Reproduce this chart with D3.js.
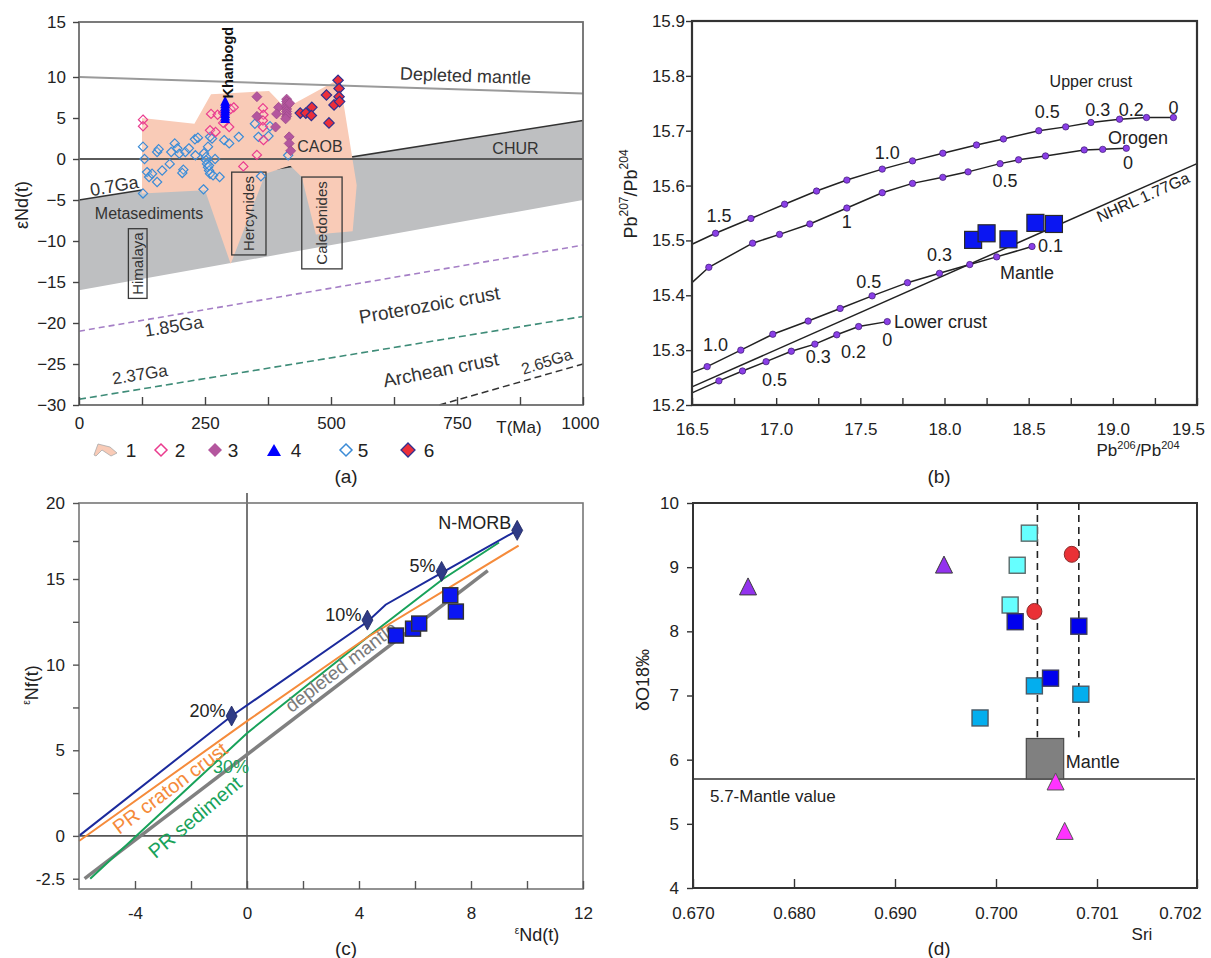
<!DOCTYPE html>
<html><head><meta charset="utf-8">
<script src="https://cdn.jsdelivr.net/npm/d3@7"></script>
<style>
body{margin:0;background:#fff;}
svg text{font-family:"Liberation Sans",Arial,sans-serif;}
</style></head><body>
<svg id="chart" width="1211" height="958"></svg>
<script>
// ================= Panel (a) data =================
const aYTicks = [-30,-25,-20,-15,-10,-5,0,5,10,15];
const aXTicks = [0,125,250,375,500,625,750,875,1000];
const aXLabels = [0,250,500,750,1000];
const aDepletedMantle = [[0,10],[1000,8]];
const aCHUR = [[0,0],[1000,0]];
const aMetasedBand = [[0,-5],[1000,4.7],[1000,-5],[0,-16]];
const aGa07 = [[0,-5],[1000,4.7]];
const aGa185 = [[0,-21],[1000,-10.5]];
const aGa237 = [[0,-29.3],[1000,-19.2]];
const aGa265 = [[715,-30],[1000,-25]];
const aField1 = [[125,5],[229,4.3],[262,7.9],[377,8.3],[410,6.2],[517,9.8],[551,-3.2],[543,-8.8],[470,-9.2],[442,-2.2],[419,-0.8],[370,-1.8],[301,-12.8],[250,-3.8],[125,-4.2]];
const aSeries2 = [[127,4.8],[127,4.0],[262,5.5],[275,5.4],[260,3.5],[271,3.3],[286,5.6],[301,6.1],[307,6.3],[298,3.9],[286,4.4],[326,-0.9],[353,0.5],[365,6.2],[366,5.4],[365,4.7],[365,3.9],[366,2.3]];
const aSeries3 = [[353,7.6],[353,5.2],[390,3.9],[396,6.3],[392,5.5],[412,7.3],[412,7.0],[412,6.7],[412,6.4],[412,6.1],[412,5.8],[412,5.5],[412,5.2],[410,4.9],[417,2.7],[417,1.9],[420,1.0],[418,6.8]];
const aSeries4 = [[290,5.0],[290,5.3],[290,5.6],[290,5.9],[290,6.2],[290,6.5],[290,6.8],[290,7.1]];
const aSeries5 = [[127,1.5],[130,0],[127,-4.2],[135,-1.6],[139,-2.2],[145,-1.8],[155,0.85],[158,1.2],[165,-1.4],[155,-2.8],
  [180,-0.6],[183,0.85],[190,1.9],[195,1.3],[199,0.65],[207,-1.3],[205,-1.7],[211,0.85],[218,1.3],[230,2.4],[236,2.6],[231,0.45],
  [247,-3.7],[248,0.7],[252,0.25],[252,-0.15],[254,-0.6],[256,-1.0],[258,-1.4],[260,-1.8],[256,1.5],[264,2.5],[260,2.7],[270,0],
  [266,-2.0],[279,-2.2],[258,-0.8],[288,2.3],[298,1.9],[317,2.7],[349,4.3],[356,2.7],[361,-2.1],[376,2.8],[379,4.0],[415,0.45]];
const aSeries6 = [[439,5.6],[450,5.6],[462,6.3],[461,5.3],[491,7.8],[496,4.4],[506,6.6],[514,9.6],[516,8.6],[516,7.6],[517,7.0]];
const aLegendLabels = ["1","2","3","4","5","6"];
const aBoxes = [
  {name:"Himalaya", x0:98, x1:135, y0:-17, y1:-8.5},
  {name:"Hercynides", x0:303, x1:371, y0:-11.7, y1:-1.6},
  {name:"Caledonides", x0:442, x1:522, y0:-13.4, y1:-2.2}];
const aLabels = [
  {t:"Depleted mantle", x:767, y:10.1, r:2, s:18},
  {t:"CHUR", x:866, y:1.3, r:0, s:16},
  {t:"CAOB", x:478, y:1.5, r:0, s:16},
  {t:"0.7Ga", x:70, y:-3.3, r:-10, s:18},
  {t:"Metasediments", x:139, y:-6.7, r:0, s:16},
  {t:"1.85Ga", x:188, y:-20.4, r:-9, s:18},
  {t:"Proterozoic crust", x:695, y:-17.8, r:-10, s:19},
  {t:"2.37Ga", x:121, y:-26.3, r:-9, s:17},
  {t:"Archean crust", x:718, y:-25.7, r:-11, s:19},
  {t:"2.65Ga", x:928, y:-24.7, r:-18, s:16}];

// ================= Panel (b) data =================
const bXTicks = [16.5,16.75,17,17.25,17.5,17.75,18,18.25,18.5,18.75,19,19.25,19.5];
const bXLabels = [16.5,17,17.5,18,18.5,19,19.5];
const bYTicks = [15.2,15.3,15.4,15.5,15.6,15.7,15.8,15.9];
const bUpperCrust = [[16.5,15.493],[16.64,15.513],[16.85,15.540],[17.05,15.566],[17.24,15.590],[17.42,15.610],[17.63,15.630],[17.81,15.645],[17.99,15.659],[18.19,15.674],[18.35,15.685],[18.56,15.700],[18.72,15.707],[18.87,15.715],[19.04,15.721],[19.20,15.724],[19.36,15.724]];
const bOrogen = [[16.5,15.423],[16.60,15.451],[16.86,15.495],[17.02,15.511],[17.20,15.530],[17.42,15.559],[17.63,15.587],[17.81,15.604],[17.99,15.615],[18.14,15.625],[18.33,15.640],[18.44,15.647],[18.60,15.654],[18.83,15.665],[18.94,15.666],[19.08,15.668]];
const bMantle = [[16.5,15.259],[16.59,15.270],[16.79,15.300],[16.98,15.329],[17.19,15.353],[17.38,15.376],[17.57,15.399],[17.78,15.423],[17.97,15.440],[18.15,15.456],[18.31,15.470],[18.52,15.489]];
const bLowerCrust = [[16.5,15.222],[16.66,15.244],[16.80,15.262],[16.94,15.279],[17.09,15.298],[17.23,15.311],[17.36,15.328],[17.49,15.343],[17.66,15.352]];
const bNHRL = [[16.5,15.233],[19.5,15.640]];
const bSamples = [[18.17,15.501],[18.25,15.513],[18.38,15.502],[18.54,15.532],[18.65,15.530]];
const bLabels = [
  {t:"1.5", x:16.66, y:15.545, s:18}, {t:"1.0", x:17.66, y:15.66, s:18}, {t:"0.5", x:18.61, y:15.735, s:18},
  {t:"0.3", x:18.91, y:15.738, s:18}, {t:"0.2", x:19.11, y:15.738, s:18}, {t:"0", x:19.36, y:15.742, s:18},
  {t:"Upper crust", x:18.87, y:15.79, s:16}, {t:"Orogen", x:19.15, y:15.687, s:18},
  {t:"0", x:19.09, y:15.641, s:18}, {t:"0.5", x:18.36, y:15.608, s:18}, {t:"1", x:17.42, y:15.534, s:18},
  {t:"1.0", x:16.64, y:15.31, s:18}, {t:"0.5", x:17.55, y:15.425, s:18}, {t:"0.3", x:17.97, y:15.473, s:18},
  {t:"0.1", x:18.63, y:15.49, s:18}, {t:"Mantle", x:18.49, y:15.441, s:18},
  {t:"0", x:17.66, y:15.318, s:18}, {t:"0.2", x:17.46, y:15.297, s:18}, {t:"0.3", x:17.25, y:15.288, s:18},
  {t:"0.5", x:16.99, y:15.246, s:18}];

// ================= Panel (c) data =================
const cXTicks = [-4,-2,0,2,4,6,8,10,12];
const cXLabels = [-4,0,4,8,12];
const cYTicks = [-2.5,0,2.5,5,7.5,10,12.5,15,17.5,20];
const cYLabels = [-2.5,0,5,10,15,20];
const cNMORBmix = [[-6,0],[-0.55,7.0],[4.3,12.5],[4.95,13.5],[6.95,15.4],[9.65,18.2]];
const cCraton = [[-6,-0.3],[0,6.7],[4.3,11.6],[9.7,17.2]];
const cSediment = [[-5.6,-2.5],[0,6.0],[4.3,11.6],[7.0,15.0],[9.0,17.4]];
const cDepleted = [[-5.8,-2.5],[8.6,15.55]];
const cMixX = [-0.55,4.3,6.95,9.65];
const cMixY = [7.0,12.6,15.5,18.2];
const cMixLabels = ["20%","10%","5%","N-MORB"];
const cSamples = [[5.32,11.7],[5.93,12.1],[6.15,12.4],[7.26,14.05],[7.46,13.1]];

// ================= Panel (d) data =================
const dXTicks = [0.670,0.680,0.690,0.700,0.701,0.702];
const dYTicks = [4,5,6,7,8,9,10];
const dTriPurple = [[0.67545,8.70],[0.69485,9.04]];
const dSqCyan = [[0.70033,9.53],[0.70021,9.03],[0.70014,8.41]];
const dSqBlue = [[0.70019,8.15],[0.70082,8.08],[0.70054,7.27]];
const dSqSky = [[0.70038,7.15],[0.70084,7.02],[0.69842,6.65]];
const dCircRed = [[0.70075,9.20],[0.70038,8.31]];
const dTriMagenta = [[0.70059,5.66],[0.70068,4.89]];
const dMantleValue = 5.7;
const dDashX = [0.70041,0.70082];
const dDashTop = 6.35;
const dMantleBox = {x0:0.70030, x1:0.70067, y0:5.7, y1:6.33};

// ================= drawing =================
const svg = d3.select("#chart");
svg.append("rect").attr("width",1211).attr("height",958).attr("fill","#fff");

function txt(g, x, y, s, o={}) {
  const t = g.append("text").attr("x",x).attr("y",y).text(s)
    .attr("font-size",o.size||17).attr("fill",o.color||"#222")
    .attr("text-anchor",o.anchor||"middle").attr("dominant-baseline","central");
  if (o.rotate) t.attr("transform",`rotate(${o.rotate},${x},${y})`);
  if (o.weight) t.attr("font-weight",o.weight);
  return t;
}
function styleAxis(g, color, fs) {
  g.select(".domain").remove();
  g.selectAll(".tick line").attr("stroke",color).attr("stroke-width",1.4);
  g.selectAll(".tick text").attr("fill","#222").attr("font-size",fs)
    .attr("font-family",'"Liberation Sans",Arial,sans-serif');
}
const diamond = (w,h) => `M0,${-h}L${w},0L0,${h}L${-w},0Z`;
const tri = (w,h) => `M0,${-h/2}L${w/2},${h/2}L${-w/2},${h/2}Z`;

// ---------- Panel (a) ----------
{
  const xA = d3.scaleLinear().domain([0,1000]).range([79,583]);
  const yA = d3.scaleLinear().domain([-30,10,15]).range([405,77,22]);
  const g = svg.append("g");
  const ln = d3.line().x(d=>xA(d[0])).y(d=>yA(d[1]));
  const poly = d3.line().x(d=>xA(d[0])).y(d=>yA(d[1])).curve(d3.curveLinearClosed);
  g.append("path").attr("d",poly(aMetasedBand)).attr("fill","#bebfc1");
  g.append("path").attr("d",ln(aGa07)).attr("stroke","#333").attr("stroke-width",1.5).attr("fill","none");
  g.append("path").attr("d",poly(aField1)).attr("fill","#f9cbb7");
  g.append("path").attr("d",ln(aDepletedMantle)).attr("stroke","#9a9a9a").attr("stroke-width",2).attr("fill","none");
  g.append("path").attr("d",ln(aCHUR)).attr("stroke","#5a5a5a").attr("stroke-width",2).attr("fill","none");
  g.append("path").attr("d",ln(aGa185)).attr("stroke","#a57fc6").attr("stroke-width",1.6).attr("stroke-dasharray","6,4").attr("fill","none");
  g.append("path").attr("d",ln(aGa237)).attr("stroke","#3e8c78").attr("stroke-width",1.6).attr("stroke-dasharray","7,4").attr("fill","none");
  g.append("path").attr("d",ln(aGa265)).attr("stroke","#333").attr("stroke-width",1.5).attr("stroke-dasharray","7,4").attr("fill","none");
  aBoxes.forEach(b => {
    g.append("rect").attr("x",xA(b.x0)).attr("y",yA(b.y1)).attr("width",xA(b.x1)-xA(b.x0)).attr("height",yA(b.y0)-yA(b.y1))
      .attr("fill","none").attr("stroke","#3a3a3a").attr("stroke-width",1.3);
    const cx = (xA(b.x0)+xA(b.x1))/2, cy = (yA(b.y0)+yA(b.y1))/2;
    txt(g,cx,cy,b.name,{size:15,rotate:-90,color:"#333"});
  });
  // points
  g.selectAll(".s5").data(aSeries5).join("path").attr("d",diamond(4.6,4.6))
    .attr("transform",d=>`translate(${xA(d[0])},${yA(d[1])})`).attr("fill","#fff").attr("fill-opacity",0.15).attr("stroke","#3b8bd6").attr("stroke-width",1.2);
  g.selectAll(".s2").data(aSeries2).join("path").attr("d",diamond(4.6,4.6))
    .attr("transform",d=>`translate(${xA(d[0])},${yA(d[1])})`).attr("fill","#fff").attr("fill-opacity",0.15).attr("stroke","#ea3b8e").attr("stroke-width",1.2);
  g.selectAll(".s3").data(aSeries3).join("path").attr("d",diamond(5,5))
    .attr("transform",d=>`translate(${xA(d[0])},${yA(d[1])})`).attr("fill","#b4569e").attr("stroke","#9c4a8a").attr("stroke-width",0.8);
  g.selectAll(".s4").data(aSeries4).join("path").attr("d",tri(10,10))
    .attr("transform",d=>`translate(${xA(d[0])},${yA(d[1])})`).attr("fill","#0000ff");
  g.selectAll(".s6").data(aSeries6).join("path").attr("d",diamond(5.2,5.2))
    .attr("transform",d=>`translate(${xA(d[0])},${yA(d[1])})`).attr("fill","#ec2f3a").attr("stroke","#2f3090").attr("stroke-width",1.2);
  txt(g,xA(295),yA(11.3),"Khanbogd",{size:14.5,rotate:-90,weight:"bold",color:"#111"});
  aLabels.forEach(l => txt(g,xA(l.x),yA(l.y),l.t,{size:l.s,rotate:l.r,color:"#333"}));
  // frame & axes
  g.append("rect").attr("x",79).attr("y",yA(15)).attr("width",xA(1000)-xA(0)).attr("height",yA(-30)-yA(15))
    .attr("fill","none").attr("stroke","#6d6d6d").attr("stroke-width",1.8);
  const ay = g.append("g").attr("transform",`translate(${xA(0)},0)`)
    .call(d3.axisLeft(yA).tickValues(aYTicks).tickSize(6).tickPadding(7));
  styleAxis(ay,"#444",17);
  const ax = g.append("g").attr("transform",`translate(0,${yA(-30)})`)
    .call(d3.axisBottom(xA).tickValues(aXTicks).tickSizeInner(-8).tickSizeOuter(0).tickPadding(12)
      .tickFormat(d => aXLabels.includes(d) ? d : ""));
  styleAxis(ax,"#444",17);
  ax.selectAll(".tick text").filter(d => d===1000).attr("dx",-3);
  txt(g,xA(873),427,"T(Ma)",{size:17});
  txt(g,22,205,"εNd(t)",{size:18,rotate:-90});
  // legend
  const ly = 450;
  g.append("path").attr("d",`M94,455L98,444L110,447L117,453L111,456L102,450L96,456Z`).attr("fill","#f9cbb7").attr("stroke","#aaa").attr("stroke-width",0.8);
  g.append("path").attr("d",diamond(6,6)).attr("transform",`translate(161,${ly})`).attr("fill","#fff").attr("stroke","#ea3b8e").attr("stroke-width",1.5);
  g.append("path").attr("d",diamond(7,7)).attr("transform",`translate(215,${ly})`).attr("fill","#b4569e");
  g.append("path").attr("d",tri(14,12)).attr("transform",`translate(274,${ly})`).attr("fill","#0000ff");
  g.append("path").attr("d",diamond(6,6)).attr("transform",`translate(346,${ly})`).attr("fill","#fff").attr("stroke","#3b8bd6").attr("stroke-width",1.5);
  g.append("path").attr("d",diamond(7,7)).attr("transform",`translate(408,${ly})`).attr("fill","#ec2f3a").attr("stroke","#2f3090").attr("stroke-width",1.3);
  [131,180,233,296,363,429].forEach((x,i)=>txt(g,x,ly,aLegendLabels[i],{size:19}));
  txt(g,346,476,"(a)",{size:19});
}

// ---------- Panel (b) ----------
{
  const xB = d3.scaleLinear().domain([16.5,19.5]).range([692,1197]);
  const yB = d3.scaleLinear().domain([15.2,15.9]).range([405,21]);
  const g = svg.append("g");
  const ln = d3.line().x(d=>xB(d[0])).y(d=>yB(d[1]));
  g.append("path").attr("d",ln(bNHRL)).attr("stroke","#222").attr("stroke-width",1.5).attr("fill","none");
  [bUpperCrust,bOrogen,bMantle,bLowerCrust].forEach(c => {
    g.append("path").attr("d",ln(c)).attr("stroke","#222").attr("stroke-width",1.5).attr("fill","none");
    g.selectAll(null).data(c.slice(1)).join("circle").attr("cx",d=>xB(d[0])).attr("cy",d=>yB(d[1])).attr("r",3.2)
      .attr("fill","#8a3fe6").attr("stroke","#3b1870").attr("stroke-width",0.7);
  });
  g.selectAll(".sq").data(bSamples).join("rect").attr("x",d=>xB(d[0])-8.5).attr("y",d=>yB(d[1])-8.5).attr("width",17).attr("height",17)
    .attr("fill","#0b16f2").attr("stroke","#2a2a2a").attr("stroke-width",1.2);
  bLabels.forEach(l => txt(g,xB(l.x),yB(l.y),l.t,{size:l.s,color:"#222"}));
  txt(g,xB(17.70),yB(15.352),"Lower crust",{size:18,anchor:"start"});
  txt(g,xB(19.18),yB(15.579),"NHRL 1.77Ga",{size:16,rotate:-24});
  g.append("rect").attr("x",692).attr("y",21).attr("width",505).attr("height",384).attr("fill","none").attr("stroke","#333").attr("stroke-width",2.2);
  const ay = g.append("g").attr("transform","translate(692,0)")
    .call(d3.axisLeft(yB).tickValues(bYTicks).tickSize(6).tickPadding(1).tickFormat(d3.format(".1f")));
  styleAxis(ay,"#333",17);
  const ax = g.append("g").attr("transform","translate(0,405)")
    .call(d3.axisBottom(xB).tickValues(bXTicks).tickSizeInner(-7).tickSizeOuter(0).tickPadding(18)
      .tickFormat(d => bXLabels.includes(d) ? d3.format(".1f")(d) : ""));
  styleAxis(ax,"#333",17);
  ax.selectAll(".tick text").filter(d => d===19.5).attr("dx",-9);
  const yl = g.append("text").attr("transform","translate(631,194) rotate(-90)").attr("text-anchor","middle")
    .attr("font-size",18).attr("fill","#222").attr("dominant-baseline","central");
  yl.append("tspan").text("Pb");
  yl.append("tspan").text("207").attr("font-size",12).attr("dy",-7);
  yl.append("tspan").text("/Pb").attr("dy",7);
  yl.append("tspan").text("204").attr("font-size",12).attr("dy",-7);
  const xl = g.append("text").attr("x",1138).attr("y",456).attr("text-anchor","middle").attr("font-size",17).attr("fill","#222");
  xl.append("tspan").text("Pb");
  xl.append("tspan").text("206").attr("font-size",11).attr("dy",-7);
  xl.append("tspan").text("/Pb").attr("dy",7);
  xl.append("tspan").text("204").attr("font-size",11).attr("dy",-7);
  txt(g,939,476,"(b)",{size:19});
}

// ---------- Panel (c) ----------
{
  const xC = d3.scaleLinear().domain([-6,12]).range([79,583]);
  const yC = d3.scaleLinear().domain([-3.1,15,20]).range([889,579,503]);
  const g = svg.append("g");
  const ln = d3.line().x(d=>xC(d[0])).y(d=>yC(d[1]));
  g.append("line").attr("x1",xC(0)).attr("x2",xC(0)).attr("y1",493).attr("y2",889).attr("stroke","#555").attr("stroke-width",1.6);
  g.append("line").attr("x1",79).attr("x2",583).attr("y1",yC(0)).attr("y2",yC(0)).attr("stroke","#555").attr("stroke-width",1.6);
  g.append("path").attr("d",ln(cDepleted)).attr("stroke","#808080").attr("stroke-width",3.5).attr("fill","none");
  g.append("path").attr("d",ln(cSediment)).attr("stroke","#18a25a").attr("stroke-width",2).attr("fill","none");
  g.append("path").attr("d",ln(cCraton)).attr("stroke","#f58b3b").attr("stroke-width",2).attr("fill","none");
  g.append("path").attr("d",ln(cNMORBmix)).attr("stroke","#1b2a9c").attr("stroke-width",2).attr("fill","none");
  txt(g,xC(3.36),yC(9.87),"depleted mantle",{size:19,rotate:-37.5,color:"#7a7a7a"});
  txt(g,xC(-2.75),yC(2.8),"PR craton crust",{size:20,rotate:-37,color:"#f58b3b"});
  txt(g,xC(-1.86),yC(1.1),"PR sediment",{size:20,rotate:-40,color:"#18a25a"});
  txt(g,xC(-0.57),yC(4.0),"30%",{size:18,color:"#18a25a"});
  g.selectAll(".sq").data(cSamples).join("rect").attr("x",d=>xC(d[0])-7.5).attr("y",d=>yC(d[1])-7.5).attr("width",15).attr("height",15)
    .attr("fill","#0b16f2").attr("stroke","#333").attr("stroke-width",1.4);
  cMixX.forEach((x,i) => {
    g.append("path").attr("d",diamond(5.5,10)).attr("transform",`translate(${xC(x)},${yC(cMixY[i])})`)
      .attr("fill","#2f3b86").attr("stroke","#1d2560").attr("stroke-width",0.8);
    txt(g,xC(x)-6,yC(cMixY[i])+ (i===3?-7:-5),cMixLabels[i],{size:18,anchor:"end"});
  });
  g.append("rect").attr("x",79).attr("y",503).attr("width",504).attr("height",386).attr("fill","none").attr("stroke","#777").attr("stroke-width",1.6);
  const ay = g.append("g").attr("transform","translate(79,0)")
    .call(d3.axisLeft(yC).tickValues(cYTicks).tickSize(6).tickPadding(8)
      .tickFormat(d => cYLabels.includes(d) ? (d===-2.5?"-2.5":d3.format("d")(d)) : ""));
  styleAxis(ay,"#555",17);
  const ax = g.append("g").attr("transform","translate(0,889)")
    .call(d3.axisBottom(xC).tickValues(cXTicks).tickSizeInner(-8).tickSizeOuter(0).tickPadding(18)
      .tickFormat(d => cXLabels.includes(d) ? d : ""));
  styleAxis(ax,"#555",17);
  const yl = g.append("text").attr("transform","translate(32,685) rotate(-90)").attr("text-anchor","middle")
    .attr("font-size",18).attr("fill","#222").attr("dominant-baseline","central");
  yl.append("tspan").text("ε").attr("font-size",10).attr("dy",-6);
  yl.append("tspan").text("Nf(t)").attr("dy",6);
  const xl = g.append("text").attr("x",537).attr("y",941).attr("text-anchor","middle").attr("font-size",18).attr("fill","#222");
  xl.append("tspan").text("ε").attr("font-size",10).attr("dy",-7);
  xl.append("tspan").text("Nd(t)").attr("dy",7);
  txt(g,346,948,"(c)",{size:19});
}

// ---------- Panel (d) ----------
{
  const xD = d3.scaleLinear().domain(dXTicks).range([693,794,895,996,1097,1197]);
  const yD = d3.scaleLinear().domain([4,10]).range([888,503]);
  const g = svg.append("g");
  dDashX.forEach(x => g.append("line").attr("x1",xD(x)).attr("x2",xD(x)).attr("y1",yD(10)).attr("y2",yD(dDashTop))
    .attr("stroke","#222").attr("stroke-width",1.6).attr("stroke-dasharray","7,5"));
  g.append("line").attr("x1",693).attr("x2",1195).attr("y1",yD(dMantleValue)).attr("y2",yD(dMantleValue)).attr("stroke","#333").attr("stroke-width",1.5);
  g.append("rect").attr("x",xD(dMantleBox.x0)).attr("y",yD(dMantleBox.y1)).attr("width",xD(dMantleBox.x1)-xD(dMantleBox.x0))
    .attr("height",yD(dMantleBox.y0)-yD(dMantleBox.y1)).attr("fill","#808080").attr("stroke","#4a4a4a").attr("stroke-width",1.2);
  txt(g,xD(0.67168),yD(5.42),"5.7-Mantle value",{size:17,anchor:"start"});
  txt(g,xD(0.70069),yD(5.96),"Mantle",{size:18,anchor:"start"});
  const sq = (data,fill,stroke) => g.selectAll(null).data(data).join("rect")
    .attr("x",d=>xD(d[0])-8).attr("y",d=>yD(d[1])-8).attr("width",16).attr("height",16)
    .attr("fill",fill).attr("stroke",stroke).attr("stroke-width",1.4);
  sq(dSqCyan,"#66ffff","#5a6a6a");
  sq(dSqSky,"#03aeee","#4a5a66");
  sq(dSqBlue,"#0000ee","#3a3a5a");
  g.selectAll(null).data(dCircRed).join("ellipse").attr("cx",d=>xD(d[0])).attr("cy",d=>yD(d[1])).attr("rx",7.5).attr("ry",8)
    .attr("fill","#ea3136").attr("stroke","#8a2a2a").attr("stroke-width",1);
  g.selectAll(null).data(dTriPurple).join("path").attr("d",tri(17,17)).attr("transform",d=>`translate(${xD(d[0])},${yD(d[1])})`)
    .attr("fill","#9333ee").attr("stroke","#3a3a3a").attr("stroke-width",1);
  g.selectAll(null).data(dTriMagenta).join("path").attr("d",tri(17,17)).attr("transform",d=>`translate(${xD(d[0])},${yD(d[1])})`)
    .attr("fill","#ff33ff").attr("stroke","#555").attr("stroke-width",1);
  g.append("rect").attr("x",693).attr("y",503).attr("width",504).attr("height",385).attr("fill","none").attr("stroke","#333").attr("stroke-width",2);
  const ay = g.append("g").attr("transform","translate(693,0)")
    .call(d3.axisLeft(yD).tickValues(dYTicks).tickSize(6).tickPadding(8).tickFormat(d3.format("d")));
  styleAxis(ay,"#333",17);
  const ax = g.append("g").attr("transform","translate(0,888)")
    .call(d3.axisBottom(xD).tickValues(dXTicks).tickSizeInner(-9).tickSizeOuter(0).tickPadding(19).tickFormat(d3.format(".3f")));
  styleAxis(ax,"#333",17);
  ax.selectAll(".tick text").filter(d => d===0.702).attr("dx",-17);
  txt(g,643,680,"δO18‰",{size:18,rotate:-90});
  txt(g,1142,934,"Sri",{size:17});
  txt(g,939,948,"(d)",{size:19});
}
</script>
</body></html>
